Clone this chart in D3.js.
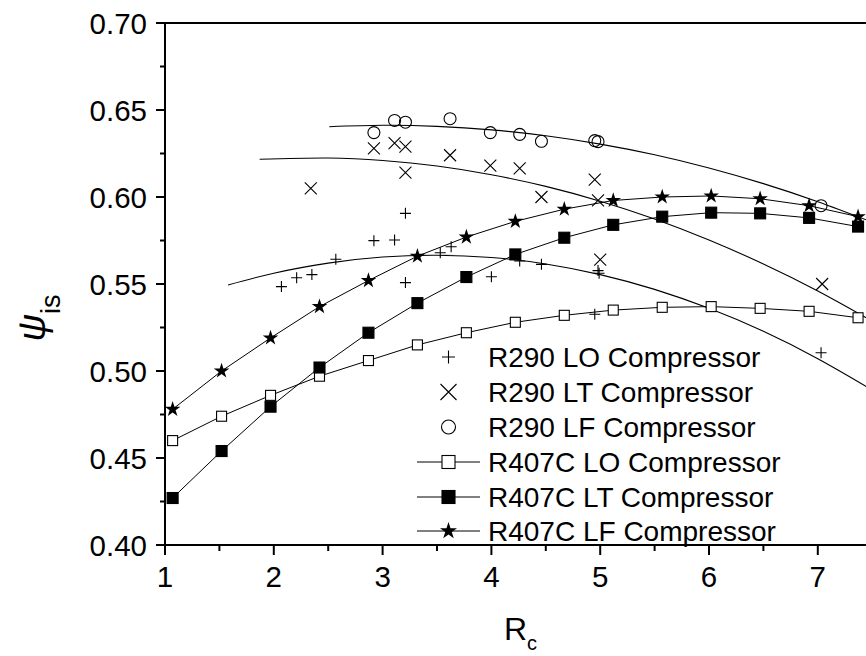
<!DOCTYPE html>
<html><head><meta charset="utf-8">
<script src="https://cdn.jsdelivr.net/npm/d3@7/dist/d3.min.js"></script>
<style>
body{margin:0;background:#fff}
svg{display:block}
text{font-family:"Liberation Sans",Arial,Helvetica,sans-serif;fill:#000}
</style>
</head><body>
<svg id="c" width="866" height="656"></svg>
<script>
// ---------- data ----------
const xTicks = [1, 2, 3, 4, 5, 6, 7];
const xMinorTicks = [1.5, 2.5, 3.5, 4.5, 5.5, 6.5, 7.5];
const yTicks = [0.40, 0.45, 0.50, 0.55, 0.60, 0.65, 0.70];
const yMinorTicks = [0.425, 0.475, 0.525, 0.575, 0.625, 0.675];

const legendLabels = ["R290 LO Compressor", "R290 LT Compressor", "R290 LF Compressor",
  "R407C LO Compressor", "R407C LT Compressor", "R407C LF Compressor"];

// R407C series (connected)
const rcR407C   = [1.07, 1.52, 1.97, 2.42, 2.87, 3.32, 3.77, 4.22, 4.67, 5.12, 5.57, 6.02, 6.47, 6.92, 7.37];
const r407cLO   = [0.460, 0.474, 0.486, 0.497, 0.506, 0.515, 0.522, 0.528, 0.532, 0.535, 0.5366, 0.537, 0.536, 0.5343, 0.5306];
const r407cLT   = [0.427, 0.454, 0.4795, 0.502, 0.522, 0.539, 0.554, 0.567, 0.5766, 0.584, 0.5887, 0.591, 0.5906, 0.588, 0.583];
const r407cLF   = [0.478, 0.500, 0.519, 0.537, 0.552, 0.566, 0.577, 0.586, 0.593, 0.598, 0.600, 0.6006, 0.599, 0.595, 0.5887];

// R290 scatter series
const r290LO_x = [2.07, 2.21, 2.35, 2.57, 2.92, 3.11, 3.21, 3.21, 3.53, 3.63, 4.00, 4.26, 4.46, 4.95, 4.98, 4.99, 7.03];
const r290LO_y = [0.5485, 0.5536, 0.5554, 0.5642, 0.5749, 0.5753, 0.5906, 0.5508, 0.568, 0.5714, 0.5542, 0.5632, 0.5613, 0.5326, 0.5577, 0.5562, 0.5105];
const r290LT_x = [2.34, 2.92, 3.11, 3.21, 3.21, 3.62, 3.99, 4.26, 4.46, 4.95, 4.98, 5.00, 7.04];
const r290LT_y = [0.605, 0.628, 0.631, 0.629, 0.614, 0.624, 0.618, 0.6165, 0.600, 0.610, 0.598, 0.564, 0.550];
const r290LF_x = [2.92, 3.11, 3.21, 3.62, 3.99, 4.26, 4.46, 4.95, 4.98, 7.03];
const r290LF_y = [0.637, 0.644, 0.643, 0.645, 0.637, 0.636, 0.632, 0.6324, 0.6318, 0.595];

// fitted trend curves
const fitLO_x = [1.58, 2.0, 2.5, 3.0, 3.5, 4.0, 4.5, 5.0, 5.5, 6.0, 6.5, 7.0, 7.46];
const fitLO_y = [0.5494, 0.5562, 0.5620, 0.5655, 0.5665, 0.5652, 0.5615, 0.5554, 0.5469, 0.5360, 0.5228, 0.5071, 0.4906];
const fitLT_x = [1.87, 2.5, 3.0, 3.5, 4.0, 4.5, 5.0, 5.5, 6.0, 6.5, 7.0, 7.46];
const fitLT_y = [0.6217, 0.6224, 0.6210, 0.6178, 0.6128, 0.6061, 0.5976, 0.5874, 0.5753, 0.5615, 0.5460, 0.5301];
const fitLF_x = [2.51, 3.0, 3.5, 4.0, 4.5, 5.0, 5.5, 6.0, 6.5, 7.0, 7.46];
const fitLF_y = [0.6404, 0.6412, 0.6406, 0.6386, 0.6352, 0.6304, 0.6243, 0.6167, 0.6077, 0.5973, 0.5865];

// ---------- chart ----------
const svg = d3.select("#c");
const W = 866, H = 656;
const x = d3.scaleLinear().domain([1, 8]).range([165, 165 + 7 * 108.8]);
const y = d3.scaleLinear().domain([0.40, 0.70]).range([545, 23]);
const fmtY = d3.format(".2f");

svg.append("defs").append("clipPath").attr("id", "plot")
  .append("rect").attr("x", 160).attr("y", 10).attr("width", W - 160).attr("height", 545);

const plot = svg.append("g").attr("clip-path", "url(#plot)");

// fit curves
const curveLine = d3.line().x(d => x(d[0])).y(d => y(d[1])).curve(d3.curveNatural);
[[fitLO_x, fitLO_y], [fitLT_x, fitLT_y], [fitLF_x, fitLF_y]].forEach(([xs, ys]) => {
  plot.append("path").datum(xs.map((v, i) => [v, ys[i]]))
    .attr("d", curveLine).attr("fill", "none").attr("stroke", "#000").attr("stroke-width", 1.1);
});

// R407C connecting lines
const seriesLine = d3.line().x(d => x(d[0])).y(d => y(d[1]));
[r407cLO, r407cLT, r407cLF].forEach(ys => {
  plot.append("path").datum(rcR407C.map((v, i) => [v, ys[i]]))
    .attr("d", seriesLine).attr("fill", "none").attr("stroke", "#000").attr("stroke-width", 1);
});

// marker helpers
function plus(g, cx, cy, s) {
  g.append("path").attr("d", `M${cx - s / 2},${cy}H${cx + s / 2}M${cx},${cy - s / 2}V${cy + s / 2}`)
    .attr("stroke", "#000").attr("stroke-width", 1.1).attr("fill", "none");
}
function cross(g, cx, cy, s) {
  const h = s / 2;
  g.append("path").attr("d", `M${cx - h},${cy - h}L${cx + h},${cy + h}M${cx - h},${cy + h}L${cx + h},${cy - h}`)
    .attr("stroke", "#000").attr("stroke-width", 1.1).attr("fill", "none");
}
function circle(g, cx, cy, r) {
  g.append("circle").attr("cx", cx).attr("cy", cy).attr("r", r)
    .attr("fill", "none").attr("stroke", "#000").attr("stroke-width", 1.1);
}
function square(g, cx, cy, s, filled) {
  g.append("rect").attr("x", cx - s / 2).attr("y", cy - s / 2).attr("width", s).attr("height", s)
    .attr("fill", filled ? "#000" : "#fff").attr("stroke", "#000").attr("stroke-width", 1.1);
}
function star(g, cx, cy, size) {
  g.append("path").attr("d", d3.symbol(d3.symbolStar, size)())
    .attr("transform", `translate(${cx},${cy})`).attr("fill", "#000");
}

// R290 scatter
r290LO_x.forEach((v, i) => plus(plot, x(v), y(r290LO_y[i]), 11));
r290LT_x.forEach((v, i) => cross(plot, x(v), y(r290LT_y[i]), 12));
r290LF_x.forEach((v, i) => circle(plot, x(v), y(r290LF_y[i]), 6));

// R407C markers
rcR407C.forEach((v, i) => square(plot, x(v), y(r407cLO[i]), 10, false));
rcR407C.forEach((v, i) => square(plot, x(v), y(r407cLT[i]), 11, true));
rcR407C.forEach((v, i) => star(plot, x(v), y(r407cLF[i]), 75));

// ---------- axes ----------
const ax = svg.append("g");
ax.append("path").attr("d", `M165,23V545H${W}`).attr("fill", "none").attr("stroke", "#000").attr("stroke-width", 2);
ax.append("path").attr("d", `M164,23H${W}`).attr("fill", "none").attr("stroke", "#000").attr("stroke-width", 2);

yTicks.forEach(t => {
  ax.append("line").attr("x1", 156).attr("x2", 165).attr("y1", y(t)).attr("y2", y(t))
    .attr("stroke", "#000").attr("stroke-width", 2);
  ax.append("text").attr("x", 147).attr("y", y(t)).attr("dy", "0.36em")
    .attr("text-anchor", "end").attr("font-size", 29.5).text(fmtY(t));
});
yMinorTicks.forEach(t => {
  ax.append("line").attr("x1", 160).attr("x2", 165).attr("y1", y(t)).attr("y2", y(t))
    .attr("stroke", "#000").attr("stroke-width", 2);
});
xTicks.forEach(t => {
  ax.append("line").attr("x1", x(t)).attr("x2", x(t)).attr("y1", 545).attr("y2", 555)
    .attr("stroke", "#000").attr("stroke-width", 2);
  ax.append("text").attr("x", x(t)).attr("y", 587).attr("text-anchor", "middle")
    .attr("font-size", 29.5).text(t);
});
xMinorTicks.filter(t => x(t) < W).forEach(t => {
  ax.append("line").attr("x1", x(t)).attr("x2", x(t)).attr("y1", 545).attr("y2", 551)
    .attr("stroke", "#000").attr("stroke-width", 2);
});

// axis titles
const xt = svg.append("text").attr("x", 504).attr("y", 640).attr("font-size", 32);
xt.append("tspan").text("R");
xt.append("tspan").attr("font-size", 20).attr("dy", 10).text("c");

const yt = svg.append("text").attr("transform", "translate(45,318) rotate(-90)")
  .attr("text-anchor", "middle").attr("font-size", 38);
yt.append("tspan").attr("font-style", "italic").text("ψ");
yt.append("tspan").attr("font-size", 27).attr("dy", 15).text("is");

// ---------- legend ----------
const lg = svg.append("g");
const rowY = [357, 392, 427, 462, 497, 531];
const symX = 448.5;
legendLabels.forEach((lab, i) => {
  const cy = rowY[i];
  if (i >= 3) {
    lg.append("line").attr("x1", 417).attr("x2", 480).attr("y1", cy).attr("y2", cy)
      .attr("stroke", "#000").attr("stroke-width", 1);
  }
  if (i === 0) plus(lg, symX, cy, 13);
  if (i === 1) cross(lg, symX, cy, 16);
  if (i === 2) circle(lg, symX, cy, 7);
  if (i === 3) square(lg, symX, cy, 13, false);
  if (i === 4) square(lg, symX, cy, 13, true);
  if (i === 5) star(lg, symX, cy, 90);
  lg.append("text").attr("x", 488).attr("y", cy).attr("dy", "0.36em")
    .attr("font-size", 28).text(lab);
});
</script>
</body></html>
